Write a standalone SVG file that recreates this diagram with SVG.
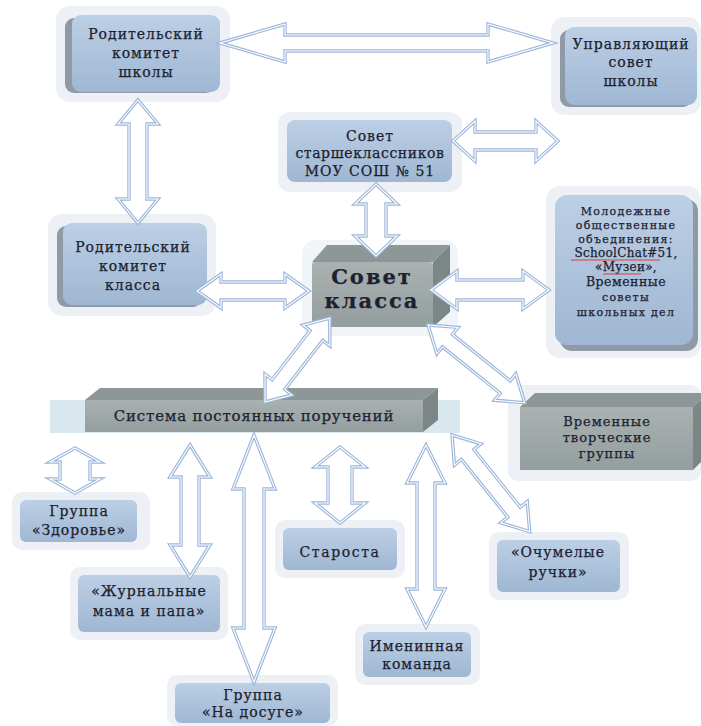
<svg xmlns="http://www.w3.org/2000/svg" xmlns:xlink="http://www.w3.org/1999/xlink" width="701" height="726" viewBox="0 0 701 726">
<style>
.halo{fill:#edf1f6}
.box{fill:url(#blue)}
.sh{fill:#8f9aa6}
.front{fill:url(#gray)}
.top{fill:#8d9797}
.side{fill:#7c8686}
.t{font-family:"DejaVu Serif","Liberation Serif",serif;font-size:14px;fill:#1d2130;stroke:#1d2130;stroke-width:0.25;text-anchor:middle;letter-spacing:1px}
.big{font-size:21px;font-weight:bold;letter-spacing:2px}
.sm{font-size:11px;letter-spacing:1.3px}
.arr{fill:#fff;stroke:#9cb6da;stroke-width:3.4;stroke-linejoin:miter}
.arrIn{fill:none;stroke:#fff;stroke-width:1.1}
.spell{fill:none;stroke:#e03a3a;stroke-width:1}
</style>
<defs>
<linearGradient id="blue" x1="0" y1="0" x2="0" y2="1"><stop offset="0" stop-color="#bccfe5"/><stop offset="1" stop-color="#9fb7d3"/></linearGradient>
<linearGradient id="gray" x1="0" y1="0" x2="0" y2="1"><stop offset="0" stop-color="#a9b1b1"/><stop offset="1" stop-color="#959e9e"/></linearGradient>
<path id="a1" d="M0,0 L65,-19 L65,-8 L268,-8 L268,-19 L333,0 L268,19 L268,8 L65,8 L65,19 Z" transform="translate(220,43)"/>
<path id="a2" d="M0,0 L22,-20 L22,-9 L83,-9 L83,-20 L105,0 L83,20 L83,9 L22,9 L22,20 Z" transform="translate(453,141)"/>
<path id="a3" d="M0,0 L24,-20 L24,-9 L99,-9 L99,-20 L123,0 L99,20 L99,9 L24,9 L24,20 Z" transform="translate(138,100) rotate(90)"/>
<path id="a4" d="M0,0 L20,-21 L20,-10 L52,-10 L52,-21 L72,0 L52,21 L52,10 L20,10 L20,21 Z" transform="translate(376,184) rotate(90)"/>
<path id="a5" d="M0,0 L24,-17 L24,-9 L88,-9 L88,-17 L112,0 L88,17 L88,9 L24,9 L24,17 Z" transform="translate(197,291)"/>
<path id="a6" d="M0,0 L26,-19 L26,-10 L92,-10 L92,-19 L118,0 L92,19 L92,10 L26,10 L26,19 Z" transform="translate(431,290)"/>
<path id="a7" d="M0,0 L22,-17 L22,-8 L84,-8 L84,-17 L106,0 L84,17 L84,8 L22,8 L22,17 Z" transform="translate(265,402) rotate(-52.3)"/>
<path id="a8" d="M0,0 L25,-17 L25,-8 L99,-8 L99,-17 L124,0 L99,17 L99,8 L25,8 L25,17 Z" transform="translate(428,325) rotate(38.8)"/>
<path id="a9" d="M0,0 L14,-25 L14,-15 L31,-15 L31,-25 L45,0 L31,25 L31,15 L14,15 L14,25 Z" transform="translate(75,448) rotate(90)"/>
<path id="a10" d="M0,0 L32,-20 L32,-9 L100,-9 L100,-20 L132,0 L100,20 L100,9 L32,9 L32,20 Z" transform="translate(190,445) rotate(90)"/>
<path id="a11" d="M0,0 L54,-21 L54,-10 L193,-10 L193,-21 L247,0 L193,21 L193,10 L54,10 L54,21 Z" transform="translate(254,435) rotate(90)"/>
<path id="a12" d="M0,0 L20,-25 L20,-12 L56,-12 L56,-25 L76,0 L56,25 L56,12 L20,12 L20,25 Z" transform="translate(340,447) rotate(90)"/>
<path id="a13" d="M0,0 L38,-19 L38,-9 L144,-9 L144,-19 L182,0 L144,19 L144,9 L38,9 L38,19 Z" transform="translate(426,445) rotate(90)"/>
<path id="a14" d="M0,0 L25,-17 L25,-8 L99,-8 L99,-17 L124,0 L99,17 L99,8 L25,8 L25,17 Z" transform="translate(452,435) rotate(51.2)"/>
</defs>
<rect width="701" height="726" fill="#fff"/>

<g id="node-rk-school">
<rect class="halo" x="56" y="6" width="174" height="96" rx="14"/>
<rect class="sh" x="65" y="18" width="150" height="75" rx="9"/>
<rect class="box" x="72" y="15" width="148" height="77" rx="9"/>
<text class="t" x="146" y="39">Родительский</text>
<text class="t" x="146" y="58">комитет</text>
<text class="t" x="146" y="77">школы</text>
</g>

<g id="node-upr">
<rect class="halo" x="551" y="17" width="150" height="98" rx="14"/>
<rect class="sh" x="560" y="30" width="132" height="77" rx="9"/>
<rect class="box" x="565" y="27" width="132" height="78" rx="9"/>
<text class="t" x="631" y="49">Управляющий</text>
<text class="t" x="631" y="67">совет</text>
<text class="t" x="631" y="86">школы</text>
</g>

<g id="node-starsh">
<rect class="halo" x="278" y="112" width="184" height="80" rx="12"/>
<rect class="box" x="287" y="120" width="165" height="62" rx="8"/>
<text class="t" x="370" y="141">Совет</text>
<text class="t" x="370" y="158" style="letter-spacing:0.6px">старшеклассников</text>
<text class="t" x="370" y="176">МОУ СОШ № 51</text>
</g>

<g id="node-youth">
<rect class="halo" x="546" y="186" width="155" height="172" rx="14"/>
<rect class="sh" x="560" y="199" width="138" height="152" rx="12"/>
<rect class="box" x="555" y="195" width="138" height="150" rx="12"/>
<text class="t sm" x="626" y="215">Молодежные</text>
<text class="t sm" x="626" y="229">общественные</text>
<text class="t sm" x="626" y="243">объединения:</text>
<text class="t sm" x="626" y="257" style="font-size:12px;letter-spacing:0.3px">SchoolChat#51,</text>
<text class="t sm" x="626" y="271" style="font-size:12px;letter-spacing:0.3px">«Музеи»,</text>
<text class="t sm" x="626" y="286" style="font-size:12.5px;letter-spacing:0.5px">Временные</text>
<text class="t sm" x="626" y="301">советы</text>
<text class="t sm" x="626" y="316">школьных дел</text>
<path class="spell" d="M571,260 L660,260 M603,274 L641,274"/>
</g>

<g id="node-rk-class">
<rect class="halo" x="48" y="214" width="168" height="102" rx="14"/>
<rect class="sh" x="57" y="226" width="145" height="81" rx="9"/>
<rect class="box" x="63" y="223" width="144" height="82" rx="9"/>
<text class="t" x="133" y="252">Родительский</text>
<text class="t" x="133" y="271">комитет</text>
<text class="t" x="133" y="290">класса</text>
</g>

<g id="node-sovet-class">
<rect x="302" y="240" width="156" height="96" rx="14" fill="#f1f4f8"/>
<polygon class="top" points="312,262 327,245 450,245 433,262"/>
<polygon class="side" points="433,262 450,245 450,312 433,327"/>
<rect class="front" x="312" y="262" width="121" height="65" rx="3"/>
<text class="t big" x="372" y="284">Совет</text>
<text class="t big" x="372" y="308">класса</text>
</g>

<g id="node-system">
<rect x="50" y="400" width="410" height="33" fill="#d8e8ee"/>
<polygon class="top" points="85,400 100,388 438,388 423,400"/>
<polygon class="side" points="423,400 438,388 438,420 423,432"/>
<rect class="front" x="85" y="400" width="338" height="32"/>
<text class="t" x="254" y="421" style="font-size:15px;letter-spacing:0.8px">Система постоянных поручений</text>
</g>

<g id="node-vtg">
<rect class="halo" x="508" y="385" width="193" height="96" rx="10"/>
<polygon class="top" points="520,407 535,393 701,393 701,400 693,407"/>
<polygon class="side" points="693,407 701,400 701,462 693,470"/>
<rect class="front" x="520" y="407" width="173" height="63"/>
<text class="t" x="607" y="426" style="font-size:13px">Временные</text>
<text class="t" x="607" y="442" style="font-size:13px">творческие</text>
<text class="t" x="607" y="458" style="font-size:13px">группы</text>
</g>

<g id="node-zdorovie">
<rect class="halo" x="12" y="492" width="138" height="58" rx="10"/>
<rect class="box" x="20" y="500" width="117" height="42" rx="6"/>
<text class="t" x="79" y="516">Группа</text>
<text class="t" x="79" y="535">«Здоровье»</text>
</g>

<g id="node-starosta">
<rect class="halo" x="275" y="520" width="130" height="58" rx="10"/>
<rect class="box" x="283" y="528" width="114" height="42" rx="6"/>
<text class="t" x="340" y="557" style="letter-spacing:1.6px">Староста</text>
</g>

<g id="node-ochumel">
<rect class="halo" x="489" y="532" width="140" height="68" rx="10"/>
<rect class="box" x="497" y="540" width="123" height="52" rx="6"/>
<text class="t" x="558" y="557">«Очумелые</text>
<text class="t" x="558" y="577">ручки»</text>
</g>

<g id="node-zhurnal">
<rect class="halo" x="70" y="567" width="158" height="73" rx="10"/>
<rect class="box" x="78" y="575" width="142" height="57" rx="6"/>
<text class="t" x="149" y="596">«Журнальные</text>
<text class="t" x="149" y="616">мама и папа»</text>
</g>

<g id="node-imenin">
<rect class="halo" x="355" y="624" width="125" height="61" rx="10"/>
<rect class="box" x="363" y="632" width="108" height="45" rx="6"/>
<text class="t" x="417" y="651">Именинная</text>
<text class="t" x="417" y="669">команда</text>
</g>

<g id="node-dosug">
<rect class="halo" x="167" y="675" width="171" height="51" rx="10"/>
<rect class="box" x="175" y="683" width="155" height="40" rx="6"/>
<text class="t" x="253" y="700">Группа</text>
<text class="t" x="253" y="717">«На досуге»</text>
</g>

<g id="connectors">
<use href="#a1" class="arr"/><use href="#a1" class="arrIn"/>
<use href="#a2" class="arr"/><use href="#a2" class="arrIn"/>
<use href="#a3" class="arr"/><use href="#a3" class="arrIn"/>
<use href="#a4" class="arr"/><use href="#a4" class="arrIn"/>
<use href="#a5" class="arr"/><use href="#a5" class="arrIn"/>
<use href="#a6" class="arr"/><use href="#a6" class="arrIn"/>
<use href="#a7" class="arr"/><use href="#a7" class="arrIn"/>
<use href="#a8" class="arr"/><use href="#a8" class="arrIn"/>
<use href="#a9" class="arr"/><use href="#a9" class="arrIn"/>
<use href="#a10" class="arr"/><use href="#a10" class="arrIn"/>
<use href="#a11" class="arr"/><use href="#a11" class="arrIn"/>
<use href="#a12" class="arr"/><use href="#a12" class="arrIn"/>
<use href="#a13" class="arr"/><use href="#a13" class="arrIn"/>
<use href="#a14" class="arr"/><use href="#a14" class="arrIn"/>
</g>
</svg>
